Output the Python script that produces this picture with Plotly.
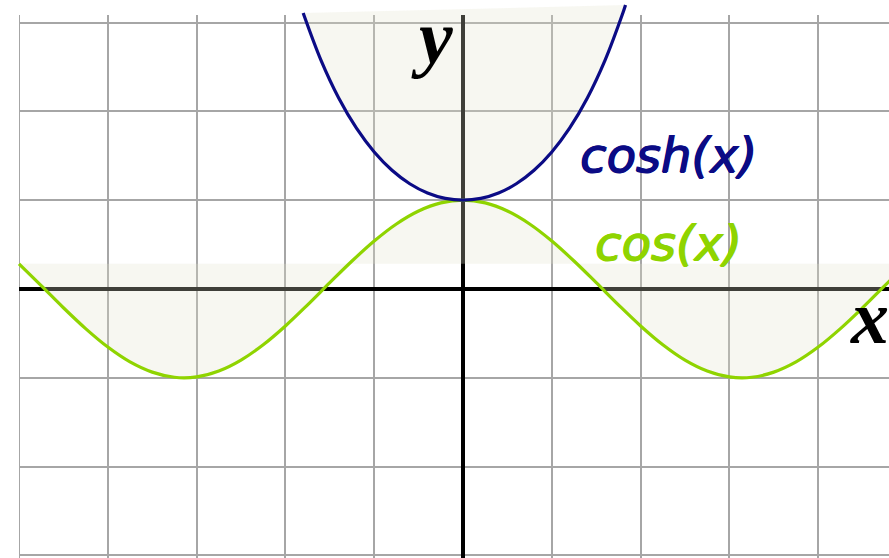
import plotly.graph_objects as go

# cos(x) samples
cos_x = [-5.0, -4.75, -4.5, -4.25, -4.0, -3.75, -3.5, -3.25, -3.0, -2.75, -2.5, -2.25, -2.0, -1.75, -1.5,
         -1.25, -1.0, -0.75, -0.5, -0.25, 0.0, 0.25, 0.5, 0.75, 1.0, 1.25, 1.5, 1.75, 2.0, 2.25, 2.5,
         2.75, 3.0, 3.25, 3.5, 3.75, 4.0, 4.25, 4.5, 4.75, 5.0]
cos_y = [0.284, 0.038, -0.211, -0.446, -0.654, -0.821, -0.936, -0.994, -0.990, -0.924, -0.801, -0.628,
         -0.416, -0.178, 0.071, 0.315, 0.540, 0.732, 0.878, 0.969, 1.0, 0.969, 0.878, 0.732, 0.540, 0.315,
         0.071, -0.178, -0.416, -0.628, -0.801, -0.924, -0.990, -0.994, -0.936, -0.821, -0.654, -0.446,
         -0.211, 0.038, 0.284]

# cosh(x) samples
cosh_x = [-1.8, -1.6, -1.4, -1.2, -1.0, -0.8, -0.6, -0.4, -0.2, 0.0, 0.2, 0.4, 0.6, 0.8, 1.0, 1.2, 1.4, 1.6, 1.8, 1.83]
cosh_y = [3.107, 2.577, 2.151, 1.811, 1.543, 1.337, 1.185, 1.081, 1.020, 1.0, 1.020, 1.081, 1.185, 1.337,
          1.543, 1.811, 2.151, 2.577, 3.107, 3.197]

X_RANGE = [-5.214, 4.797]
Y_RANGE = [-3.029, 3.254]
GRID_LEFT = -5.0
GRID_TOP = 3.085

FILL = "rgba(228,228,205,0.28)"
NAVY = "#0b0b85"
GREEN = "#8fd400"


def thick(c):
    return f"1px 0px 0px {c}, -0.5px 0px 0px {c}, 0px 0.8px 0px {c}"


fig = go.Figure()
fig.add_trace(go.Scatter(x=cos_x, y=cos_y, mode="lines", line=dict(color=GREEN, width=3.2, shape="spline"),
                         fill="toself", fillcolor=FILL, hoverinfo="skip", showlegend=False))
fig.add_trace(go.Scatter(x=cosh_x, y=cosh_y, mode="lines", line=dict(color=NAVY, width=3.2, shape="spline"),
                         fill="toself", fillcolor=FILL, hoverinfo="skip", showlegend=False))

# white masks over grid beyond grid extent
fig.add_shape(type="rect", layer="between", xref="x", yref="y", x0=X_RANGE[0], x1=GRID_LEFT,
              y0=Y_RANGE[0], y1=Y_RANGE[1], fillcolor="white", line_width=0)
fig.add_shape(type="rect", layer="between", xref="x", yref="y", x0=X_RANGE[0], x1=X_RANGE[1],
              y0=GRID_TOP, y1=Y_RANGE[1], fillcolor="white", line_width=0)

fig.add_annotation(x=2.31, y=1.51, text="cosh(x)", showarrow=False,
                   font=dict(family="DejaVu Sans", size=48, color=NAVY, style="italic", shadow=thick(NAVY)))
fig.add_annotation(x=2.31, y=0.52, text="cos(x)", showarrow=False,
                   font=dict(family="DejaVu Sans", size=48, color=GREEN, style="italic", shadow=thick(GREEN)))
fig.add_annotation(x=-0.35, y=2.84, text="y", showarrow=False,
                   font=dict(family="Liberation Serif", size=76, color="black", style="italic", weight="bold"))
fig.add_annotation(x=4.58, y=-0.32, text="x", showarrow=False,
                   font=dict(family="Liberation Serif", size=76, color="black", style="italic", weight="bold"))

axis_common = dict(showgrid=True, gridcolor="#a6a6a6", gridwidth=1.5, dtick=1, tick0=0,
                   zeroline=True, zerolinecolor="black", zerolinewidth=3.5,
                   showticklabels=False, ticks="", showline=False, fixedrange=True)
fig.update_xaxes(range=X_RANGE, **axis_common)
fig.update_yaxes(range=Y_RANGE, **axis_common)
fig.update_layout(width=889, height=558, margin=dict(l=0, r=0, t=0, b=0),
                  plot_bgcolor="white", paper_bgcolor="white")
fig.write_html("out.html", config={"displayModeBar": False},
               post_script="document.body.style.margin='0';document.body.style.overflow='hidden';")
